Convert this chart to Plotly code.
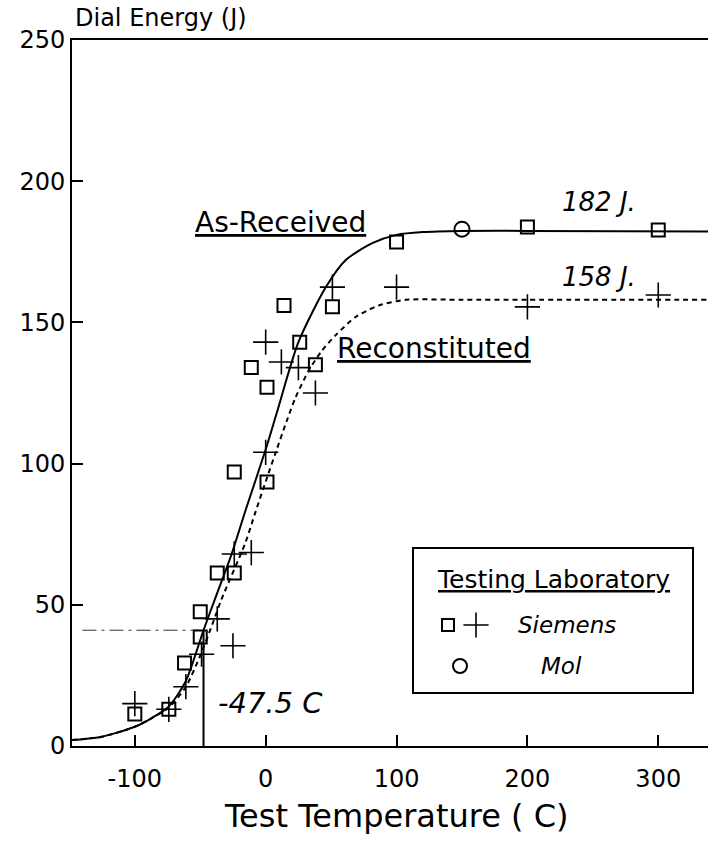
import plotly.graph_objects as go

# ---------------- data ----------------
# Siemens, as-received (open squares)
ar_T = [-100, -74, -62, -50, -50, -37, -24, -24, -11, 1, 1, 14, 26, 38, 51, 100, 200, 300]
ar_E = [11.3, 13, 29.4, 47.5, 38.6, 61.3, 61.3, 97, 134, 127, 93.5, 156, 143, 135, 155.5, 178.5, 183.8, 182.7]

# Siemens, reconstituted (plus)
rc_T = [-100, -74, -61, -49, -37, -25, -24, -11, 0, 0, 12, 25, 38, 51, 100, 200, 300]
rc_E = [15, 13, 21, 32.5, 45, 35.5, 68, 68.5, 104, 143, 136, 134, 125, 162.5, 162.5, 155.5, 159.7]

# Mol (open circle)
mol_T = [150]
mol_E = [183]

# fitted curves
ar_curve_T = [-148, -125, -100, -87, -74, -61, -47.5, -38, -26, -15, 0, 8.5, 25, 46, 61, 81, 100, 120, 150, 200, 338]
ar_curve_E = [2.1, 3.3, 6.8, 9.9, 14.0, 23, 41, 53, 68, 84, 105, 118, 143, 162.5, 172, 178, 181, 182, 182.4, 182.4, 182.2]

rc_curve_T = [-148, -125, -100, -87, -74, -61, -50, -40, -34, -15.5, -7.7, 1, 7.7, 16, 23, 33, 43, 53.5, 69, 86.5, 107, 150, 200, 338]
rc_curve_E = [2.1, 3.3, 6.8, 9.9, 13.6, 21, 32, 44, 51.7, 72, 83, 95, 104, 115, 123.6, 133, 140, 145.5, 152, 156, 158, 158, 158, 158]

# 41 J transition temperature
tt_T = -47.5
tt_E = 41

x_tickvals = [-100, 0, 100, 200, 300]
x_ticktext = ["-100", "0", "100", "200", "300"]
y_tickvals = [0, 50, 100, 150, 200, 250]
y_ticktext = ["0", "50", "100", "150", "200", "250"]

# ---------------- layout helpers ----------------
W, H = 708, 846
L, R, T, B = 72, 0, 40, 100
FONT = "DejaVu Sans"


def px(x):
    return (x - L) / (W - L - R)


def py(y):
    return (H - B - y) / (H - T - B)


fig = go.Figure()

# curves
fig.add_trace(go.Scatter(x=ar_curve_T, y=ar_curve_E, mode="lines",
                         line=dict(color="black", width=2, shape="spline", smoothing=0.7),
                         hoverinfo="skip"))
fig.add_trace(go.Scatter(x=rc_curve_T, y=rc_curve_E, mode="lines",
                         line=dict(color="black", width=2, dash="5px,4px", shape="spline", smoothing=0.7),
                         hoverinfo="skip"))

# transition temperature guides
fig.add_trace(go.Scatter(x=[tt_T, tt_T], y=[0, tt_E], mode="lines",
                         line=dict(color="black", width=2), hoverinfo="skip"))
fig.add_trace(go.Scatter(x=[-140, tt_T - 3], y=[tt_E, tt_E], mode="lines",
                         line=dict(color="#333", width=1, dash="14px,5px,3px,5px"), hoverinfo="skip"))

# data points
fig.add_trace(go.Scatter(x=ar_T, y=ar_E, mode="markers",
                         marker=dict(symbol="square-open", size=13, color="black", line=dict(width=2))))
fig.add_trace(go.Scatter(x=rc_T, y=rc_E, mode="markers",
                         marker=dict(symbol="cross-thin-open", size=18, color="black", line=dict(width=1.6))))
fig.add_trace(go.Scatter(x=mol_T, y=mol_E, mode="markers",
                         marker=dict(symbol="circle-open", size=15, color="black", line=dict(width=2))))

# legend symbols on a pixel-coordinate overlay axis
fig.add_trace(go.Scatter(x=[448], y=[625], mode="markers", xaxis="x2", yaxis="y2",
                         marker=dict(symbol="square-open", size=12, color="black", line=dict(width=2))))
fig.add_trace(go.Scatter(x=[476], y=[625], mode="markers", xaxis="x2", yaxis="y2",
                         marker=dict(symbol="cross-thin-open", size=18, color="black", line=dict(width=1.6))))
fig.add_trace(go.Scatter(x=[460], y=[666], mode="markers", xaxis="x2", yaxis="y2",
                         marker=dict(symbol="circle-open", size=14, color="black", line=dict(width=2))))

ann = []


def add_text(text, x, y, size, xanchor="left", italic=False):
    if italic:
        text = "<i>" + text + "</i>"
    ann.append(dict(text=text, x=px(x), y=py(y), xref="paper", yref="paper",
                    xanchor=xanchor, yanchor="middle", showarrow=False,
                    font=dict(family=FONT, size=size, color="black")))


add_text("Dial Energy (J)", 73, 18, 24)
add_text("Test Temperature ( C)", 396, 816, 32, xanchor="center")
add_text("<u>As-Received</u>", 193, 222, 28)
add_text("<u>Reconstituted</u>", 335, 348, 28)
add_text("182 J.", 560, 202, 26, italic=True)
add_text("158 J.", 560, 277, 26, italic=True)
add_text("-47.5 C", 216, 703, 29, italic=True)
add_text("<u>Testing Laboratory</u>", 435, 579, 25)
add_text("Siemens", 516, 625, 23, italic=True)
add_text("Mol", 539, 666, 23, italic=True)

shapes = [
    dict(type="rect", xref="paper", yref="paper", x0=px(413), x1=px(693), y0=py(548), y1=py(693),
         line=dict(color="black", width=2), fillcolor="rgba(0,0,0,0)"),
]

fig.update_layout(
    width=W, height=H,
    margin=dict(l=L, r=R, t=T, b=B, pad=0),
    paper_bgcolor="white", plot_bgcolor="white",
    showlegend=False,
    font=dict(family=FONT, color="black"),
    annotations=ann,
    shapes=shapes,
    xaxis=dict(range=[-148, 338], tickvals=x_tickvals, ticktext=x_ticktext,
               ticks="inside", ticklen=11, tickwidth=2, tickcolor="black",
               showline=True, linecolor="black", linewidth=2, mirror=True,
               showgrid=False, zeroline=False, ticklabelstandoff=10,
               tickfont=dict(family=FONT, size=24, color="black")),
    yaxis=dict(range=[0, 250], tickvals=y_tickvals, ticktext=y_ticktext,
               ticks="inside", ticklen=11, tickwidth=2, tickcolor="black",
               showline=True, linecolor="black", linewidth=2,
               showgrid=False, zeroline=False, ticklabelstandoff=0,
               tickfont=dict(family=FONT, size=24, color="black")),
    xaxis2=dict(range=[L, W - R], overlaying="x", visible=False, fixedrange=True),
    yaxis2=dict(range=[H - B, T], overlaying="y", visible=False, fixedrange=True),
)

fig.write_html("out.html")
